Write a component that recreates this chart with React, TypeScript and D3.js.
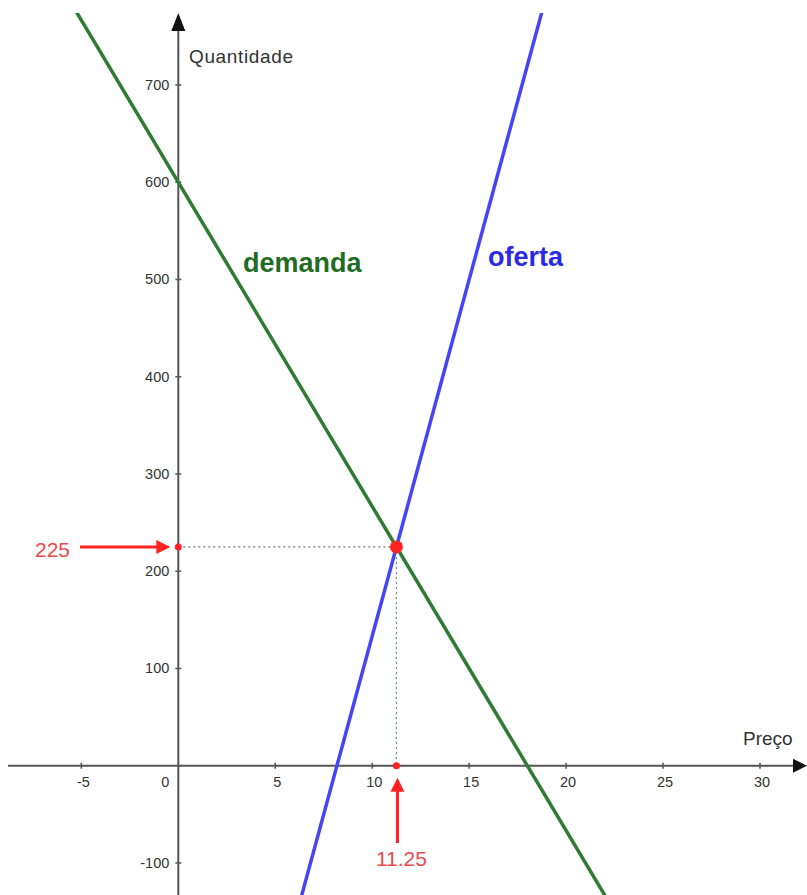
import React from "react";
import * as d3 from "d3";

const W = 807;
const H = 895;

// Price ticks (x) and quantity ticks (y)
const xTicks = [-5, 5, 10, 15, 20, 25, 30];
const yTicks = [-100, 100, 200, 300, 400, 500, 600, 700];

// Demand: Q = 600 - (100/3) P ; Supply: Q = -600 + (220/3) P
const demandIntercept = 600;
const demandSlope = -100 / 3;
const supplyIntercept = -600;
const supplySlope = 220 / 3;

const eqPrice = 11.25;
const eqQty = 225;

const priceSamples = [-15, 40];

export default function App() {
  const x = d3.scaleLinear().domain([0, 30]).range([178.3, 760]);
  const y = d3.scaleLinear().domain([0, 700]).range([765.7, 85]);

  const demandPts = priceSamples.map((p) => [p, demandIntercept + demandSlope * p] as [number, number]);
  const supplyPts = priceSamples.map((p) => [p, supplyIntercept + supplySlope * p] as [number, number]);
  const line = d3
    .line<[number, number]>()
    .x((d) => x(d[0]))
    .y((d) => y(d[1]));

  const x0 = x(0);
  const y0 = y(0);
  const ex = x(eqPrice);
  const ey = y(eqQty);
  const axisColor = "#555";
  const labelColor = "#333";
  const red = "#f22";
  const redText = "#e84a4a";
  const font = "Arial, 'Liberation Sans', sans-serif";

  return (
    <div style={{ position: "absolute", left: 0, top: 0 }}>
      <svg width={W} height={H} style={{ display: "block", background: "#fff" }}>
        <defs>
          <clipPath id="plot">
            <rect x={0} y={13} width={W} height={H - 13} />
          </clipPath>
        </defs>

        {/* axes */}
        <line x1={8} x2={W - 10} y1={y0} y2={y0} stroke={axisColor} strokeWidth={2} />
        <polygon points={`${W},${y0} ${W - 14},${y0 - 7} ${W - 14},${y0 + 7}`} fill="#111" />
        <line x1={x0} x2={x0} y1={H} y2={28} stroke={axisColor} strokeWidth={2} />
        <polygon points={`${x0},13 ${x0 - 7},31 ${x0 + 7},31`} fill="#111" />

        {/* x ticks */}
        {xTicks.map((t) => (
          <g key={"x" + t}>
            <line x1={x(t)} x2={x(t)} y1={y0 - 3} y2={y0 + 3} stroke={axisColor} strokeWidth={1.5} />
            <text
              x={x(t) + 2}
              y={787}
              textAnchor="middle"
              fontFamily={font}
              fontSize={14.5}
              fill={labelColor}
            >
              {t}
            </text>
          </g>
        ))}
        <text x={x0 - 13} y={787} textAnchor="middle" fontFamily={font} fontSize={14.5} fill={labelColor}>
          0
        </text>

        {/* y ticks */}
        {yTicks.map((t) => (
          <g key={"y" + t}>
            <line x1={x0 - 3} x2={x0 + 3} y1={y(t)} y2={y(t)} stroke={axisColor} strokeWidth={1.5} />
            <text
              x={x0 - 9}
              y={y(t) + 5}
              textAnchor="end"
              fontFamily={font}
              fontSize={14.5}
              fill={labelColor}
            >
              {t}
            </text>
          </g>
        ))}

        {/* axis titles */}
        <text x={189} y={63} fontFamily={font} fontSize={19} fill={labelColor} textLength={104}>
          Quantidade
        </text>
        <text x={743} y={745} fontFamily={font} fontSize={19} fill={labelColor}>
          Preço
        </text>

        {/* dotted guides */}
        <line x1={x0} x2={ex} y1={ey} y2={ey} stroke="#777" strokeWidth={1.2} strokeDasharray="2,3" />
        <line x1={ex} x2={ex} y1={ey} y2={y0} stroke="#6a8a9a" strokeWidth={1.2} strokeDasharray="2,3" />

        {/* curves */}
        <g clipPath="url(#plot)">
          <path d={line(demandPts) || ""} fill="none" stroke="#2f7a34" strokeWidth={3.5} />
          <path d={line(supplyPts) || ""} fill="none" stroke="#4545f5" strokeWidth={3.5} />
        </g>

        {/* curve labels */}
        <text x={243} y={272} fontFamily={font} fontSize={27} fontWeight="bold" fill="#226b22">
          demanda
        </text>
        <text x={488} y={266} fontFamily={font} fontSize={27} fontWeight="bold" fill="#2a2ae6">
          oferta
        </text>

        {/* points */}
        <circle cx={x0} cy={ey} r={3.5} fill={red} />
        <circle cx={ex} cy={y0} r={3.5} fill={red} />
        <circle cx={ex} cy={ey} r={6.5} fill={red} />

        {/* annotation 225 */}
        <text x={35} y={557} fontFamily={font} fontSize={21} fill={redText}>
          {eqQty}
        </text>
        <line x1={80} x2={158} y1={ey} y2={ey} stroke={red} strokeWidth={3} />
        <polygon points={`${x0 - 8},${ey} ${x0 - 22},${ey - 7} ${x0 - 22},${ey + 7}`} fill={red} />

        {/* annotation 11.25 */}
        <text x={ex + 5} y={866} textAnchor="middle" fontFamily={font} fontSize={21} fill={redText}>
          {eqPrice}
        </text>
        <line x1={ex + 1} x2={ex + 1} y1={843} y2={788} stroke={red} strokeWidth={3} />
        <polygon points={`${ex + 1},${y0 + 12} ${ex - 6},${y0 + 26} ${ex + 8},${y0 + 26}`} fill={red} />
      </svg>
    </div>
  );
}
